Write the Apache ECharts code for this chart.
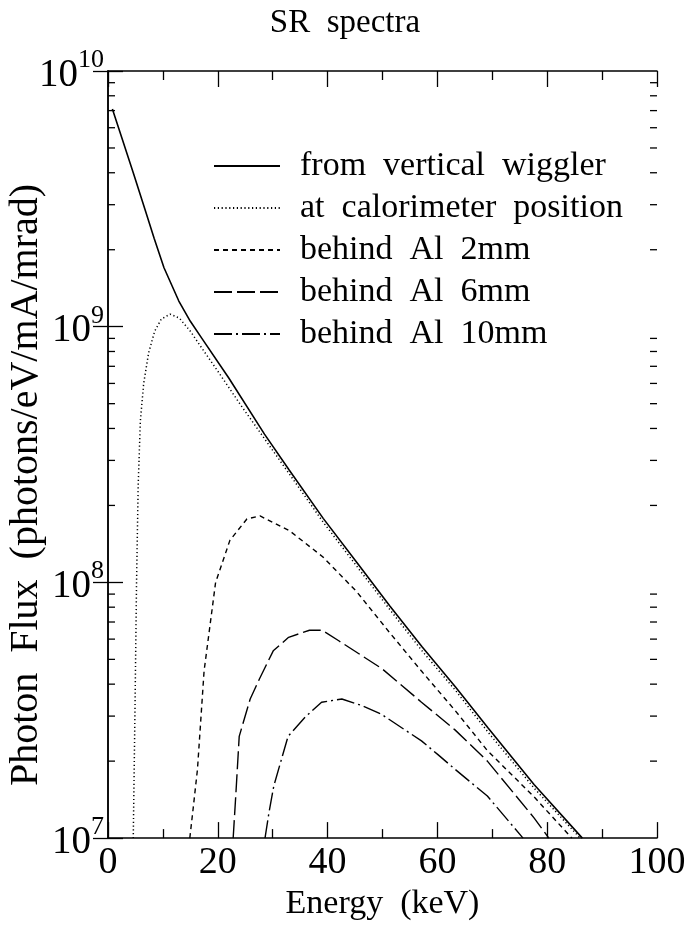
<!DOCTYPE html>
<html>
<head>
<meta charset="utf-8">
<script src="https://cdn.jsdelivr.net/npm/echarts@6/dist/echarts.min.js"></script>
<style>
html,body{margin:0;padding:0;background:#fff;}
#chart{width:690px;height:926px;}
</style>
</head>
<body>
<div id="chart"></div>
<script>
// ---- data ----
const seriesNames = [
  'from  vertical  wiggler',
  'at  calorimeter  position',
  'behind  Al  2mm',
  'behind  Al  6mm',
  'behind  Al  10mm'
];

const wigglerE = [0.8, 2.5, 4.6, 6.9, 8.4, 10.2, 12.9, 15, 17.1, 22, 28.5, 33, 39.2, 45.4, 51.3, 57.2, 63.3, 69.2, 77.6, 86.4];
const wigglerF = [7.1e9, 5.5e9, 4.0e9, 2.8e9, 2.22e9, 1.7e9, 1.26e9, 1.05e9, 9.0e8, 6.3e8, 3.8e8, 2.75e8, 1.78e8, 1.19e8, 8.1e7, 5.6e7, 3.9e7, 2.7e7, 1.62e7, 1.0e7];

const caloE = [4.6, 4.9, 5.2, 5.5, 5.9, 6.5, 7.4, 8.5, 9.7, 11.3, 13, 15, 17, 20, 24, 28.5, 33, 39.2, 45.4, 51.3, 57.2, 63.3, 69.2, 77.6, 86];
const caloF = [1e7, 3e7, 1e8, 2.4e8, 4.3e8, 6e8, 7.9e8, 9.6e8, 1.07e9, 1.12e9, 1.08e9, 9.6e8, 8.3e8, 6.7e8, 5.0e8, 3.65e8, 2.66e8, 1.72e8, 1.15e8, 7.85e7, 5.4e7, 3.78e7, 2.6e7, 1.57e7, 1.0e7];

const al2E = [14.9, 15.5, 16.3, 17.5, 19.6, 22.2, 25.3, 27.7, 33.1, 39.1, 45.3, 51.2, 57.1, 63.2, 69.1, 77.6, 84.5];
const al2F = [1e7, 1.3e7, 1.86e7, 4.5e7, 1e8, 1.46e8, 1.77e8, 1.82e8, 1.59e8, 1.26e8, 9.2e7, 6.4e7, 4.5e7, 3.16e7, 2.2e7, 1.45e7, 1.0e7];

const al6E = [22.8, 23.3, 23.9, 25.9, 27.6, 30.1, 32.9, 36.7, 39, 42.1, 49.9, 57.1, 63.2, 69.1, 77.6, 80.3];
const al6F = [1e7, 1.5e7, 2.5e7, 3.5e7, 4.2e7, 5.4e7, 6.1e7, 6.5e7, 6.5e7, 5.9e7, 4.6e7, 3.4e7, 2.65e7, 2.0e7, 1.2e7, 1.0e7];

const al10E = [28.6, 29.3, 30.2, 32.8, 35.9, 38.9, 42.6, 46.2, 49.8, 57.1, 60.1, 63.2, 69.1, 75.6];
const al10F = [1e7, 1.25e7, 1.6e7, 2.5e7, 2.97e7, 3.4e7, 3.5e7, 3.3e7, 3.05e7, 2.4e7, 2.12e7, 1.86e7, 1.46e7, 1.0e7];

const xTickValues = [0, 20, 40, 60, 80, 100];
const yDecades = [7, 8, 9, 10];
const yMinorMultipliers = [2, 3, 4, 5, 6, 7, 8, 9];

// ---- build ----
const FONT = '"Liberation Serif", "Times New Roman", serif';
const zip = (xs, ys) => xs.map((x, i) => [x, ys[i]]);
const yMinorTicks = [];
yDecades.slice(0, -1).forEach(d => yMinorMultipliers.forEach(m => yMinorTicks.push(m * Math.pow(10, d))));

const styles = [
  { type: 'solid', width: 1.6 },
  { type: [1.2, 2.6], width: 1.5 },
  { type: [5, 4], width: 1.4 },
  { type: [18, 5], width: 1.4 },
  { type: [18, 4, 2, 4], width: 1.4 }
];
const datasets = [zip(wigglerE, wigglerF), zip(caloE, caloF), zip(al2E, al2F), zip(al6E, al6F), zip(al10E, al10F)];

const lineSeries = datasets.map((d, i) => ({
  name: seriesNames[i],
  type: 'line',
  data: d,
  symbol: 'none',
  showSymbol: false,
  smooth: false,
  lineStyle: { color: '#000', width: styles[i].width, type: styles[i].type },
  itemStyle: { color: '#000' },
  silent: true,
  animation: false
}));

const minorTickSeries = {
  type: 'custom',
  name: 'minorTicks',
  silent: true,
  animation: false,
  clip: false,
  data: yMinorTicks.map(v => [0, v]),
  encode: { x: 0, y: 1 },
  renderItem: function (params, api) {
    const v = api.value(1);
    const pl = api.coord([0, v]);
    const pr = api.coord([100, v]);
    return {
      type: 'group',
      children: [
        { type: 'line', shape: { x1: pl[0], y1: pl[1], x2: pl[0] + 7, y2: pl[1] }, style: { stroke: '#000', lineWidth: 1.3 } },
        { type: 'line', shape: { x1: pr[0] - 7, y1: pr[1], x2: pr[0], y2: pr[1] }, style: { stroke: '#000', lineWidth: 1.3 } }
      ]
    };
  }
};

const axisLine = { show: true, lineStyle: { color: '#000', width: 1.5 } };

const option = {
  backgroundColor: '#fff',
  animation: false,
  title: {
    text: 'SR  spectra',
    left: 'center',
    top: 2,
    textStyle: { fontFamily: FONT, fontSize: 33, fontWeight: 'normal', color: '#000' }
  },
  legend: {
    data: seriesNames,
    orient: 'vertical',
    left: 208,
    top: 144,
    itemWidth: 66,
    itemHeight: 14,
    itemGap: 8,
    selectedMode: false,
    itemStyle: { opacity: 0 },
    textStyle: { fontFamily: FONT, fontSize: 34, color: '#000', lineHeight: 31, padding: [0, 0, 0, 15] }
  },
  grid: { left: 108, right: 33, top: 71, bottom: 74, containLabel: false },
  xAxis: [
    {
      type: 'value', min: 0, max: 100, interval: 20, position: 'bottom',
      axisLine: axisLine,
      axisTick: { show: true, inside: true, length: 16, lineStyle: { color: '#000', width: 1.3 } },
      minorTick: { show: true, splitNumber: 2, length: 9, lineStyle: { color: '#000', width: 1.3 } },
      splitLine: { show: false },
      axisLabel: {
        margin: 6, color: '#000', fontFamily: FONT, fontSize: 38,
        formatter: v => (xTickValues.indexOf(v) >= 0 ? String(v) : '')
      },
      name: 'Energy  (keV)', nameLocation: 'middle', nameGap: 33,
      nameTextStyle: { fontFamily: FONT, fontSize: 34, color: '#000' }
    },
    {
      type: 'value', min: 0, max: 100, interval: 20, position: 'top',
      axisLine: axisLine,
      axisTick: { show: true, inside: true, length: 16, lineStyle: { color: '#000', width: 1.3 } },
      minorTick: { show: true, splitNumber: 2, length: 9, lineStyle: { color: '#000', width: 1.3 } },
      splitLine: { show: false },
      axisLabel: { show: false }
    }
  ],
  yAxis: [
    {
      type: 'log', logBase: 10, min: 1e7, max: 1e10, position: 'left',
      axisLine: axisLine,
      axisTick: { show: true, inside: true, length: 15, lineStyle: { color: '#000', width: 1.3 } },
      splitLine: { show: false },
      axisLabel: {
        margin: 4,
        formatter: v => '{b|10}{s|' + Math.round(Math.log10(v)) + '}',
        rich: {
          b: { fontFamily: FONT, fontSize: 39, color: '#000', lineHeight: 48, verticalAlign: 'bottom' },
          s: { fontFamily: FONT, fontSize: 26, color: '#000', lineHeight: 26, verticalAlign: 'top' }
        }
      }
    },
    {
      type: 'log', logBase: 10, min: 1e7, max: 1e10, position: 'right',
      axisLine: axisLine,
      axisTick: { show: true, inside: true, length: 15, lineStyle: { color: '#000', width: 1.3 } },
      splitLine: { show: false },
      axisLabel: { show: false }
    }
  ],
  graphic: [
    {
      type: 'text',
      x: 26, y: 485,
      rotation: Math.PI / 2,
      style: {
        text: 'Photon  Flux  (photons/eV/mA/mrad)',
        fontFamily: FONT, fontSize: 40, fill: '#000',
        textAlign: 'center', textVerticalAlign: 'middle'
      }
    }
  ],
  series: lineSeries.concat([minorTickSeries])
};

const chart = echarts.init(document.getElementById('chart'), null, { renderer: 'canvas' });
chart.setOption(option);
</script>
</body>
</html>
